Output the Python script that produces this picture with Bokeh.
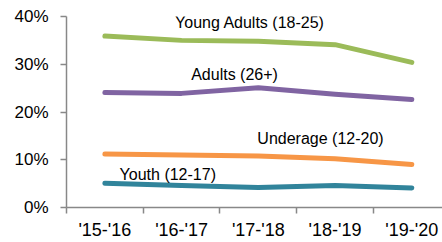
from bokeh.plotting import figure
from bokeh.models import Range1d, FixedTicker, PrintfTickFormatter, Label
from bokeh.embed import file_html
from bokeh.resources import INLINE

periods = ["'15-'16", "'16-'17", "'17-'18", "'18-'19", "'19-'20"]
young_adults = [35.9, 35.0, 34.8, 34.1, 30.4]
adults = [24.1, 23.9, 25.1, 23.7, 22.6]
underage = [11.2, 11.0, 10.8, 10.2, 9.0]
youth = [5.1, 4.6, 4.2, 4.6, 4.1]
y_ticks = [0, 10, 20, 30, 40]

series = [
    ("Young Adults (18-25)", young_adults, "#9BBB59", 2.39, 38.75),
    ("Adults (26+)", adults, "#8064A2", 2.19, 27.9),
    ("Underage (12-20)", underage, "#F79646", 3.31, 14.5),
    ("Youth (12-17)", youth, "#31849B", 1.32, 7.0),
]

xs = [i + 0.5 for i in range(len(periods))]

p = figure(width=442, height=242, output_backend="svg", toolbar_location=None,
           x_range=Range1d(0, 4.9), y_range=Range1d(0, 40),
           min_border_left=66, min_border_right=0, min_border_top=16, min_border_bottom=34)
p.outline_line_color = None
p.grid.visible = False
p.background_fill_color = "white"
p.border_fill_color = "white"

for name, vals, color, lx, ly in series:
    p.line(xs, vals, line_color=color, line_width=5, line_cap="round", line_join="round")
    p.add_layout(Label(x=lx, y=ly, text=name, text_align="center", text_baseline="middle",
                       text_font="Liberation Sans", text_font_size="16px", text_color="#000000"))

ax = p.xaxis[0]
ax.ticker = FixedTicker(ticks=xs, minor_ticks=list(range(len(periods) + 1)))
ax.major_label_overrides = {x: lab for x, lab in zip(xs, periods)}
ax.major_tick_line_color = None
ax.minor_tick_line_color = "#888888"
ax.minor_tick_out = 6
ax.minor_tick_in = 0
ax.minor_tick_line_width = 1.5
ax.axis_line_color = "#888888"
ax.axis_line_width = 1.5
ax.major_label_text_font = "Liberation Sans"
ax.major_label_text_font_size = "18px"
ax.major_label_text_color = "#000000"
ax.major_label_standoff = 6

ay = p.yaxis[0]
ay.ticker = FixedTicker(ticks=y_ticks, minor_ticks=[])
ay.formatter = PrintfTickFormatter(format="%d%%")
ay.major_tick_out = 6
ay.major_tick_in = 0
ay.major_tick_line_color = "#888888"
ay.major_tick_line_width = 1.5
ay.axis_line_color = "#888888"
ay.axis_line_width = 1.5
ay.major_label_text_font = "Liberation Sans"
ay.major_label_text_font_size = "17px"
ay.major_label_text_color = "#000000"
ay.major_label_standoff = 12

open("out.html", "w").write(file_html(p, INLINE))
